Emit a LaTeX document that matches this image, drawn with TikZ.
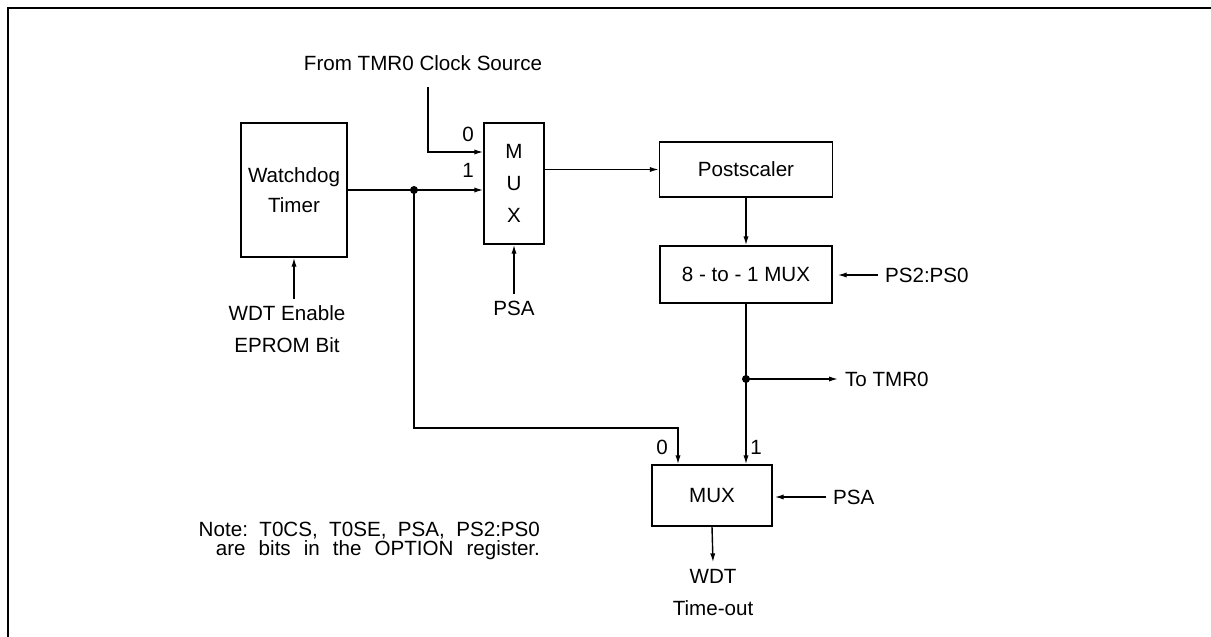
\documentclass[tikz,border=0pt]{standalone}
\usepackage{fontspec}
\setmainfont{Liberation Sans}
\usetikzlibrary{arrows.meta}

\tikzset{
  txt/.style={font=\fontsize{10.3}{12.4}\selectfont},
  block/.style={txt, draw, line width=0.7pt, inner sep=0pt, align=center},
  wire/.style={line width=0.7pt},
  sig/.style={wire, -{Latex[length=4.5pt,width=2.6pt]}},
}

\begin{document}
\begin{tikzpicture}[x=0.5pt, y=-0.5pt]
\useasboundingbox (0,0) rectangle (1211,637);

%draw frame
\draw[line width=1.3pt] (8,637) -- (8,8) -- (1211,8);

%draw blocks
\node[block, minimum width=53pt, minimum height=67pt] (wdt) at (294,190) {Watchdog\\[2.6pt]Timer};
\node[block, minimum width=30pt, minimum height=60.5pt] (mux1) at (514,183.5) {M\\[3.6pt]U\\[3.6pt]X};
\node[block, minimum width=86.5pt, minimum height=27.5pt] (post) at (746,169.5) {Postscaler};
\node[block, minimum width=86pt, minimum height=28.5pt] (sel) at (746,274.5) {8 - to - 1 MUX};
\node[block, minimum width=60pt, minimum height=30.5pt] (mux2) at (712,495.5) {MUX};

%draw labels
\node[txt] (src) at (423,63) {From TMR0 Clock Source};
\node[txt, align=center] (wdten) at (287,329.5) {WDT Enable\\[3.5pt]EPROM Bit};
\node[txt] (psa1) at (514,308) {PSA};
\node[txt, anchor=west] (ps) at (878,275) {PS2:PS0};
\node[txt, anchor=west] (totmr) at (838,379) {To TMR0};
\node[txt, anchor=west] (psa2) at (826,497) {PSA};
\node[txt, align=center] (wdtout) at (713,592.5) {WDT\\[3.5pt]Time-out};
\node[txt, font=\fontsize{10.3}{8.7}\selectfont, align=right, anchor=east] (note) at (547,541)
  {Note:\ \ T0CS,\ \ T0SE,\ \ PSA,\ \ PS2:PS0\\\makebox[162pt][s]{are bits in the OPTION register.}};

%draw pin numbers
\foreach \n/\x/\y/\t in {a/468/134/0, b/468/170/1, c/662/447/0, d/756/447/1}
\node[txt] (pin\n) at (\x,\y) {\t};

%draw first mux inputs
\coordinate (clk) at (428,87);
\draw[sig] (clk) |- (mux1.west |- 0,152);
\draw[sig] (wdt.east) -- (wdt.east -| mux1.west);
\coordinate (tap) at (wdt.east -| 414,0);
\fill (tap) circle (2pt);
\draw[sig] (psa1.north) -- (mux1.south);
\draw[sig] (wdten.north -| wdt.south) -- (wdt.south);

%draw postscaler chain
\draw[sig] (mux1.east |- post.west) -- (post.west);
\draw[sig] (post.south) -- (sel.north);
\draw[sig, shorten >=2.5pt] (ps.west) -- (sel.east |- ps.west);

%draw output mux
\coordinate (tap2) at (sel.south |- 0,379);
\draw[wire] (sel.south) -- (tap2);
\fill (tap2) circle (2pt);
\draw[sig] (tap2) -- (totmr.west);
\draw[sig] (tap2) -- (tap2 |- mux2.north);
\coordinate (m2in0) at (678,428);
\draw[sig] (tap) |- (m2in0) -- (m2in0 |- mux2.north);
\draw[sig, shorten >=1pt] (psa2.west) -- (mux2.east |- psa2.west);
\draw[sig] (mux2.south) -- (wdtout.north);
\end{tikzpicture}
\end{document}
